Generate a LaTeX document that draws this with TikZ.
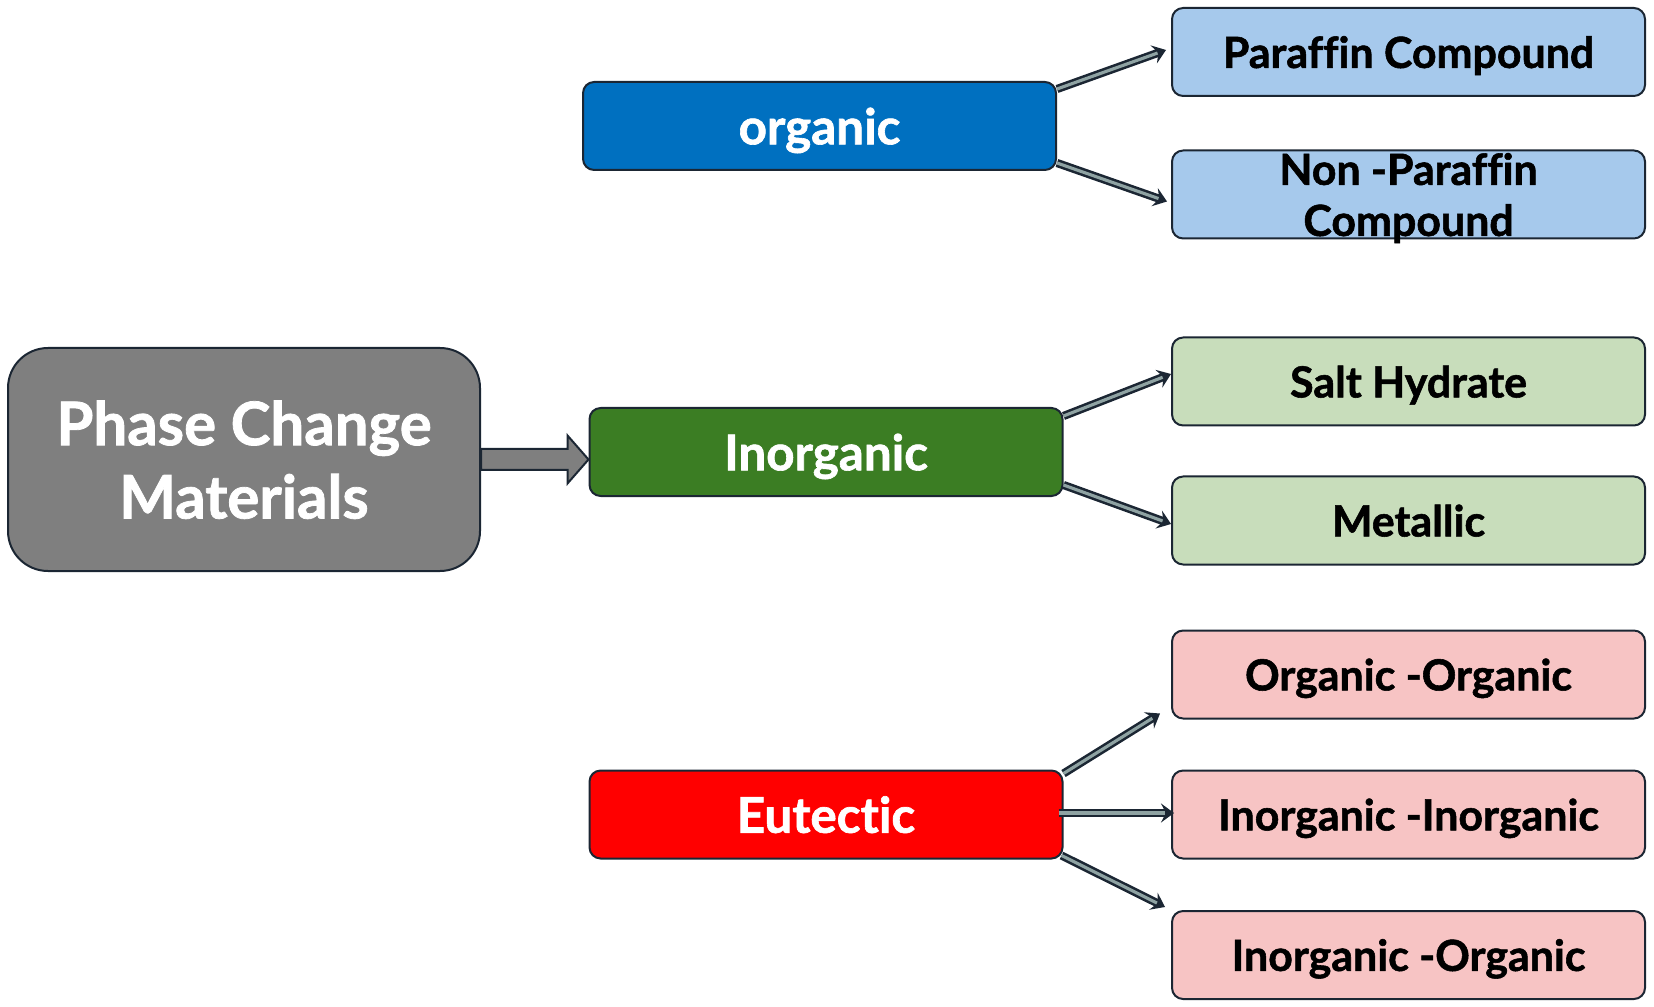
\documentclass[tikz,border=0pt]{standalone}
\usepackage{fontspec}
\setmainfont{Lato}[Ligatures=NoCommon, BoldFeatures={FakeBold=1.3}]
\usetikzlibrary{arrows.meta,calc}
\definecolor{edge}{HTML}{1B2633}
\definecolor{pcmgray}{HTML}{7F7F7F}
\definecolor{orgblue}{HTML}{0070C0}
\definecolor{inggreen}{HTML}{3B7D23}
\definecolor{eutred}{HTML}{FF0000}
\definecolor{lblue}{HTML}{A6C9EC}
\definecolor{lgreen}{HTML}{C8DDBB}
\definecolor{lpink}{HTML}{F7C4C4}
\definecolor{shaft}{HTML}{8FA3A3}
\begin{document}
\begin{tikzpicture}[x=0.45pt,y=-0.45pt,
  box/.style={draw=edge, line width=0.9pt, rounded corners=5pt,
    minimum width=473*0.45pt, minimum height=88*0.45pt, inner sep=0pt,
    text depth=0pt,
    align=center, font=\bfseries\fontsize{19.3}{23}\selectfont},
  mid/.style={box, text=white, font=\bfseries\fontsize{22.2}{26}\selectfont},
  child/.style={box, text=black},
  tarrow/.style={draw=edge, line width=3.7pt,
    -{Stealth[length=13*0.45pt, width=19*0.45pt, inset=2.2pt]},
    postaction={draw=shaft, line width=1.4pt, -, shorten >=9*0.45pt}},
  bigarrow/.style={draw=edge, fill=pcmgray, line width=0.9pt, line join=miter}]
\useasboundingbox (0,0) rectangle (1654,1007);

\node[box, fill=pcmgray, text=white, minimum width=472*0.45pt, minimum height=223*0.45pt,
  rounded corners=18pt, font=\bfseries\fontsize{27}{33}\selectfont] (pcm) at (244,459.5) {Phase Change\\Materials};

\node[mid, fill=orgblue] (org) at (819.5,126) {organic};
\node[mid, fill=inggreen] (inorg) at (826,452) {Inorganic};
\node[mid, fill=eutred] (eut) at (826,814.5) {Eutectic};

\node[child, fill=lblue] (par) at (1408.5,52) {Paraffin Compound};
\node[child, fill=lblue] (npar) at (1408.5,194.5) {Non -Paraffin\\Compound};
\node[child, fill=lgreen] (salt) at (1408.5,381.5) {Salt Hydrate};
\node[child, fill=lgreen] (metal) at (1408.5,520.5) {Metallic};
\node[child, fill=lpink] (oo) at (1408.5,674.5) {Organic -Organic};
\node[child, fill=lpink] (ii) at (1408.5,814.5) {Inorganic -Inorganic};
\node[child, fill=lpink] (io) at (1408.5,955) {Inorganic -Organic};

% big arrow
\coordinate (tip) at (inorg.west |- pcm.east);
\draw[bigarrow] ($(pcm.east)+(0,-10.5)$) -- ($(tip)+(-21,-10.5)$) -- ($(tip)+(-21,-24)$)
  -- (tip) -- ($(tip)+(-21,24)$) -- ($(tip)+(-21,10.5)$) -- ($(pcm.east)+(0,10.5)$) -- cycle;

% thin arrows
\draw[tarrow] ($(org.north east)+(0,8)$) -- ($(par.west)+(-5,-2)$);
\draw[tarrow] ($(org.south east)+(0,-8)$) -- ($(npar.west)+(-4,7)$);
\draw[tarrow] ($(inorg.north east)+(0,9)$) -- ($(salt.west)+(0,-7.5)$);
\draw[tarrow] ($(inorg.south east)+(0,-12)$) -- ($(metal.west)+(0,3.5)$);
\draw[tarrow] ($(eut.north east)+(0,4)$) -- ($(oo.west)+(-11,39)$);
\draw[tarrow] ($(eut.east)+(-5,-1.5)$) -- ($(ii.west)+(3,-1.5)$);
\draw[tarrow] ($(eut.south east)+(-2,-4)$) -- ($(io.west)+(-6,-48)$);
\end{tikzpicture}
\end{document}
